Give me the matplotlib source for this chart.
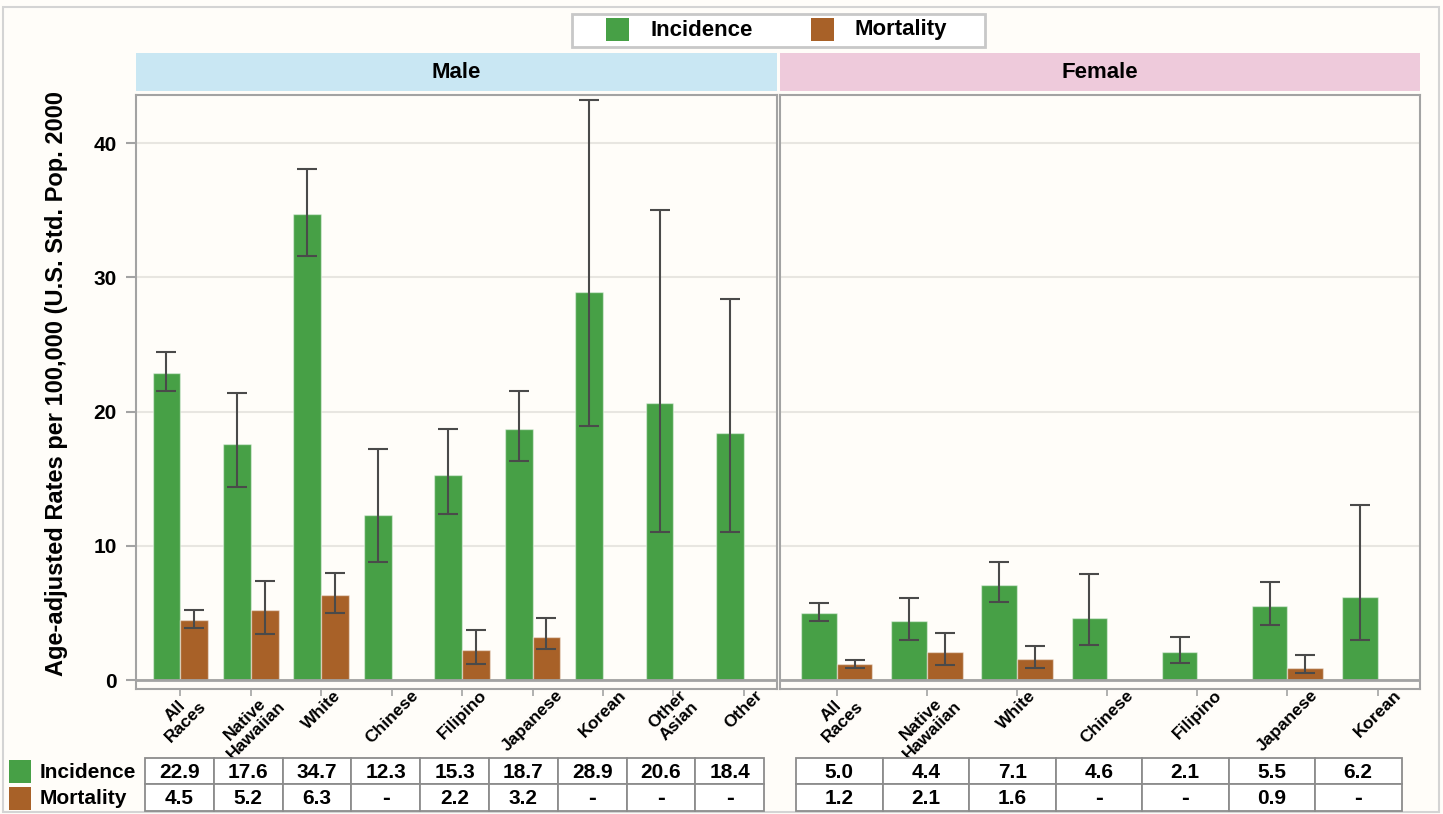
import matplotlib
matplotlib.use("Agg")
import matplotlib.pyplot as plt
from matplotlib.patches import Rectangle
import numpy as np

plt.rcParams['font.family'] = ['Liberation Sans', 'DejaVu Sans']

# ---------------------------------------------------------------- data
male_groups = ["All\nRaces", "Native\nHawaiian", "White", "Chinese", "Filipino",
               "Japanese", "Korean", "Other\nAsian", "Other"]
male_inc = [22.9, 17.6, 34.7, 12.3, 15.3, 18.7, 28.9, 20.6, 18.4]
male_inc_lo = [21.5, 14.4, 31.6, 8.8, 12.4, 16.3, 18.9, 11.0, 11.0]
male_inc_hi = [24.4, 21.4, 38.1, 17.2, 18.7, 21.5, 43.2, 35.0, 28.4]
male_mort = [4.5, 5.2, 6.3, np.nan, 2.2, 3.2, np.nan, np.nan, np.nan]
male_mort_lo = [3.9, 3.4, 5.0, np.nan, 1.2, 2.3, np.nan, np.nan, np.nan]
male_mort_hi = [5.2, 7.4, 8.0, np.nan, 3.7, 4.6, np.nan, np.nan, np.nan]

female_groups = ["All\nRaces", "Native\nHawaiian", "White", "Chinese", "Filipino",
                 "Japanese", "Korean"]
female_inc = [5.0, 4.4, 7.1, 4.6, 2.1, 5.5, 6.2]
female_inc_lo = [4.4, 3.0, 5.8, 2.6, 1.3, 4.1, 3.0]
female_inc_hi = [5.7, 6.1, 8.8, 7.9, 3.2, 7.3, 13.0]
female_mort = [1.2, 2.1, 1.6, np.nan, np.nan, 0.9, np.nan]
female_mort_lo = [0.9, 1.1, 0.9, np.nan, np.nan, 0.5, np.nan]
female_mort_hi = [1.5, 3.5, 2.5, np.nan, np.nan, 1.9, np.nan]

y_ticks = [0, 10, 20, 30, 40]

# ---------------------------------------------------------------- styles
W, H = 1443, 814
BG = "#FFFDF9"
GREEN = "#47A046"
BROWN = "#A86128"
ERR = "#4A4A4A"
SPINE = "#A3A3A3"
GRID = "#E8E6E1"


def fx(x):
    return x / W


def fy(y):
    return 1 - y / H


fig = plt.figure(figsize=(W / 100, H / 100), dpi=100, facecolor=BG)

# outer border
fig.patches.append(Rectangle((fx(3), fy(812)), fx(1436), 805 / H, transform=fig.transFigure,
                             fill=False, edgecolor="#D4D4D4", linewidth=1.5))


def draw_panel(left, right, groups, inc, inc_lo, inc_hi, mort, mort_lo, mort_hi,
               title, strip_color, show_y):
    ax = fig.add_axes([fx(left), fy(689), fx(right - left), (689 - 95) / H])
    ax.set_facecolor(BG)
    n = len(groups)
    x = np.arange(n)
    w = 0.395
    inc = np.array(inc)
    mort = np.array(mort)
    ax.bar(x - w / 2, inc, w, color=GREEN, edgecolor=(1, 1, 1, 0.45), linewidth=1, zorder=2)
    ax.bar(x + w / 2, mort, w, color=BROWN, edgecolor=(1, 1, 1, 0.45), linewidth=1, zorder=2)
    ax.errorbar(x - w / 2, inc, yerr=[inc - np.array(inc_lo), np.array(inc_hi) - inc],
                fmt="none", ecolor=ERR, elinewidth=1.5, capsize=7, capthick=1.5, zorder=3)
    ax.errorbar(x + w / 2, mort, yerr=[mort - np.array(mort_lo), np.array(mort_hi) - mort],
                fmt="none", ecolor=ERR, elinewidth=1.5, capsize=7, capthick=1.5, zorder=3)
    ax.axhline(0, color=SPINE, linewidth=2, zorder=4)

    ax.set_ylim(-0.67, 43.58)
    ax.set_xlim(-0.63, n - 1 + 0.47)
    ax.set_yticks(y_ticks)
    ax.yaxis.grid(True, color=GRID, linewidth=1.5)
    ax.set_axisbelow(True)
    for s in ax.spines.values():
        s.set_color(SPINE)
        s.set_linewidth(1.5)

    ax.set_xticks(x)
    ax.set_xticklabels(groups, rotation=45, ha="center", va="top",
                       multialignment="center", fontsize=12.5, fontweight="bold",
                       linespacing=1.05)
    ax.tick_params(axis="x", length=5, color=SPINE, width=1.2, pad=-6)
    if show_y:
        ax.tick_params(axis="y", length=7, color=SPINE, width=1.5, pad=7,
                       labelsize=15)
        for t in ax.get_yticklabels():
            t.set_fontweight("bold")
    else:
        ax.tick_params(axis="y", length=0, labelleft=False)

    # strip header
    fig.patches.append(Rectangle((fx(left), fy(91)), fx(right - left), 38 / H,
                                 transform=fig.transFigure, facecolor=strip_color,
                                 edgecolor="none"))
    fig.text(fx((left + right) / 2), fy(72), title, ha="center", va="center",
             fontsize=16, fontweight="bold")
    return ax


draw_panel(136, 777, male_groups, male_inc, male_inc_lo, male_inc_hi,
           male_mort, male_mort_lo, male_mort_hi, "Male", "#C9E7F3", True)
draw_panel(780, 1420, female_groups, female_inc, female_inc_lo, female_inc_hi,
           female_mort, female_mort_lo, female_mort_hi, "Female", "#EECADB", False)

fig.text(fx(57), fy(384), "Age-adjusted Rates per 100,000 (U.S. Std. Pop. 2000",
         rotation=90, ha="center", va="center", fontsize=17, fontweight="bold")

# legend box at the top
fig.patches.append(Rectangle((fx(572), fy(47)), fx(413), 33 / H, transform=fig.transFigure,
                             facecolor="white", edgecolor="#C8C8C8", linewidth=2))
fig.patches.append(Rectangle((fx(606), fy(41)), fx(23), 23 / H, transform=fig.transFigure,
                             facecolor=GREEN, edgecolor="none"))
fig.text(fx(650), fy(30), "Incidence", ha="left", va="center", fontsize=16, fontweight="bold")
fig.patches.append(Rectangle((fx(811), fy(41)), fx(23), 23 / H, transform=fig.transFigure,
                             facecolor=BROWN, edgecolor="none"))
fig.text(fx(855), fy(29), "Mortality", ha="left", va="center", fontsize=16, fontweight="bold")

# data table below the panels
row_tops = [758, 784, 811]
fig.patches.append(Rectangle((fx(9), fy(783)), fx(22), 23 / H, transform=fig.transFigure,
                             facecolor=GREEN, edgecolor="none"))
fig.patches.append(Rectangle((fx(9), fy(810)), fx(22), 23 / H, transform=fig.transFigure,
                             facecolor=BROWN, edgecolor="none"))
fig.text(fx(40), fy(772), "Incidence", ha="left", va="center", fontsize=15, fontweight="bold")
fig.text(fx(40), fy(798), "Mortality", ha="left", va="center", fontsize=15, fontweight="bold")


def fmt(v):
    return "-" if np.isnan(v) else "%.1f" % v


def draw_table(x0, cell_w, inc, mort):
    n = len(inc)
    for i in range(n):
        for r, vals in enumerate([inc, mort]):
            x = x0 + i * cell_w
            fig.patches.append(Rectangle((fx(x), fy(row_tops[r + 1])), fx(cell_w),
                                         (row_tops[r + 1] - row_tops[r]) / H,
                                         transform=fig.transFigure, facecolor="white",
                                         edgecolor="#8C8C8C", linewidth=1.3))
            v = vals[i]
            fig.text(fx(x + cell_w / 2), fy((row_tops[r] + row_tops[r + 1]) / 2 + 1), fmt(v),
                     ha="center", va="center", fontsize=17 if np.isnan(v) else 15,
                     fontweight="bold")


draw_table(145, 68.8, male_inc, male_mort)
draw_table(796, 86.5, female_inc, female_mort)

fig.savefig("out.png", dpi=100, facecolor=BG)
